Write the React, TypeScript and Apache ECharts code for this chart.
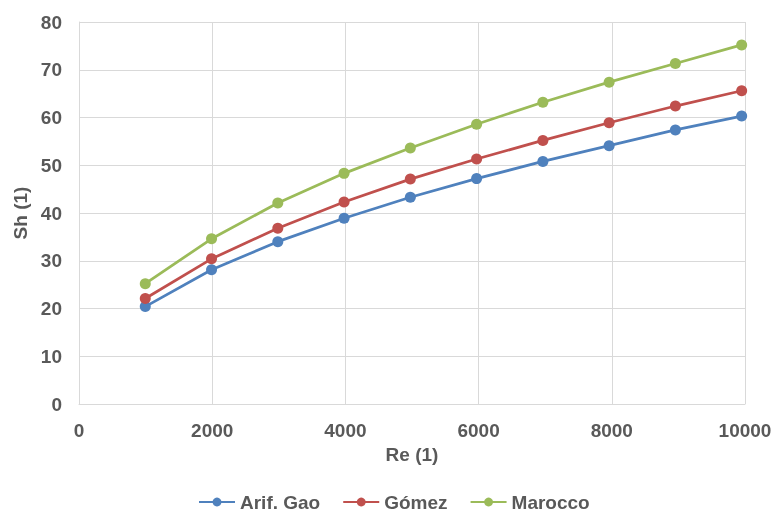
import React, { useEffect, useRef } from "react";
import * as echarts from "echarts";

const reValues = [995, 1990, 2985, 3980, 4975, 5970, 6965, 7960, 8955, 9950];
const arifGao = [20.4, 28.1, 34.0, 38.9, 43.3, 47.2, 50.8, 54.1, 57.4, 60.3];
const gomez = [22.1, 30.4, 36.8, 42.3, 47.1, 51.3, 55.2, 58.9, 62.4, 65.6];
const marocco = [25.2, 34.6, 42.1, 48.3, 53.6, 58.6, 63.2, 67.4, 71.3, 75.2];
const seriesNames = ["Arif. Gao", "Gómez", "Marocco"];
const seriesColors = ["#4F81BD", "#C0504D", "#9BBB59"];

const FONT = "'Liberation Sans', Arial, sans-serif";
const TEXT = "#595959";
const FS = 19;

export default function App() {
  const ref = useRef<HTMLDivElement>(null);
  useEffect(() => {
    if (!ref.current) return;
    const chart = echarts.init(ref.current, undefined, { renderer: "svg" });
    const datasets = [arifGao, gomez, marocco];
    chart.setOption({
      animation: false,
      grid: { left: 79, right: 31, top: 22, bottom: 108 },
      legend: {
        bottom: 0,
        left: 198,
        padding: [0, 0, 0, 0],
        itemWidth: 36,
        itemHeight: 11,
        itemGap: 22,
        textStyle: { fontFamily: FONT, fontSize: FS, fontWeight: "bold", color: TEXT, lineHeight: 20 },
        data: seriesNames,
      },
      xAxis: {
        type: "value",
        min: 0,
        max: 10000,
        interval: 2000,
        name: "Re (1)",
        nameLocation: "middle",
        nameGap: 41,
        nameTextStyle: { fontFamily: FONT, fontSize: FS, fontWeight: "bold", color: TEXT },
        axisLine: { show: true, lineStyle: { color: "#D9D9D9", width: 1 } },
        axisTick: { show: false },
        axisLabel: {
          fontFamily: FONT, fontSize: FS, fontWeight: "bold", color: TEXT, margin: 17,
          formatter: (v: number) => String(v),
        },
        splitLine: { show: true, lineStyle: { color: "#D9D9D9", width: 1 } },
      },
      yAxis: {
        type: "value",
        min: 0,
        max: 80,
        interval: 10,
        name: "Sh (1)",
        nameLocation: "middle",
        nameGap: 46,
        nameRotate: 90,
        nameTextStyle: { fontFamily: FONT, fontSize: FS, fontWeight: "bold", color: TEXT },
        axisLine: { show: true, lineStyle: { color: "#D9D9D9", width: 1 } },
        axisTick: { show: false },
        axisLabel: { fontFamily: FONT, fontSize: FS, fontWeight: "bold", color: TEXT, margin: 17 },
        splitLine: { show: true, lineStyle: { color: "#D9D9D9", width: 1 } },
      },
      series: datasets.map((vals, i) => ({
        name: seriesNames[i],
        type: "line",
        data: reValues.map((x, j) => [x, vals[j]]),
        symbol: "circle",
        symbolSize: 11,
        color: seriesColors[i],
        lineStyle: { width: 2.75, color: seriesColors[i] },
        itemStyle: { color: seriesColors[i] },
      })),
    });
    return () => chart.dispose();
  }, []);
  return <div ref={ref} style={{ position: "fixed", left: 0, top: 0, width: 776, height: 512 }} />;
}
